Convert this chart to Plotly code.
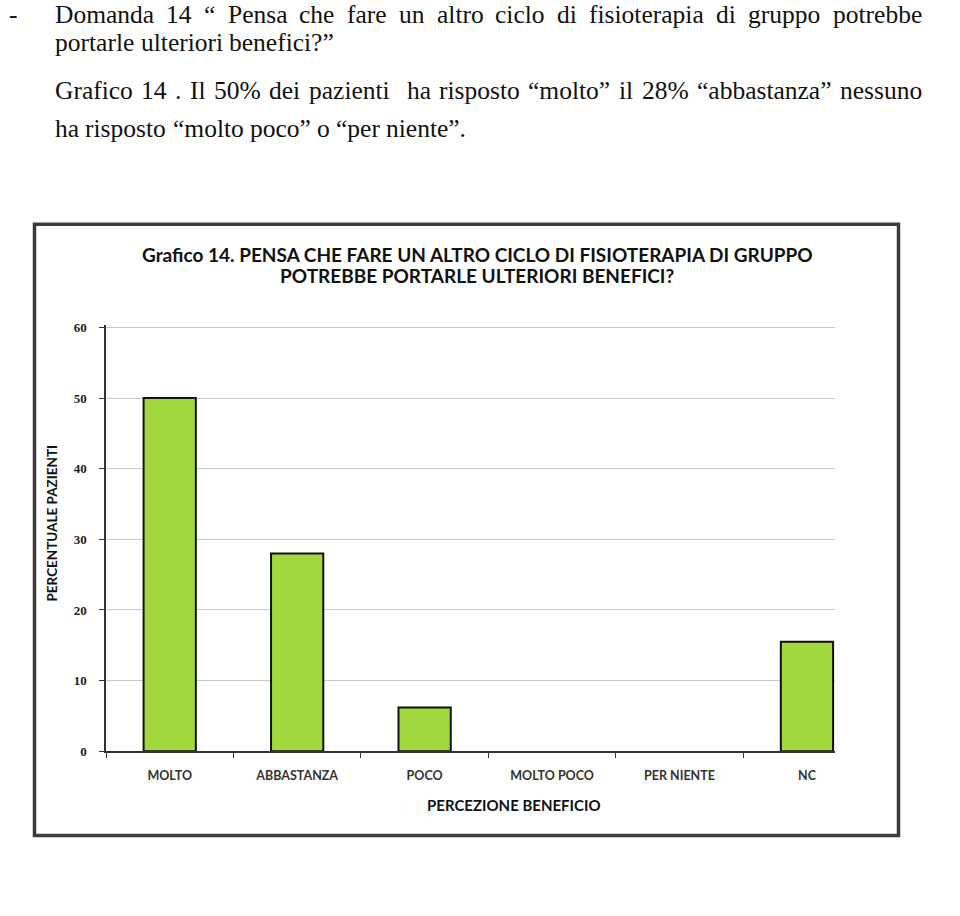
import plotly.graph_objects as go

categories = ["MOLTO", "ABBASTANZA", "POCO", "MOLTO POCO", "PER NIENTE", "NC"]
values = [50, 28, 6.2, 0, 0, 15.5]
y_ticks = [0, 10, 20, 30, 40, 50, 60]

W, H = 960, 916
def px(x):
    return x / W
def py(y):
    return 1 - y / H

fig = go.Figure()
fig.add_trace(go.Bar(
    x=categories, y=values,
    marker=dict(color="#a2d83c",
                line=dict(color="#111111", width=[0 if v == 0 else 2 for v in values])),
    width=0.41,
))

serif = "Liberation Serif"
sans = "Lato"

y_top = 60.3
y0_px, y60_px = 757, 327
top_px = y0_px - (y0_px - y60_px) * y_top / 60

fig.update_layout(
    width=W, height=H,
    margin=dict(l=0, r=0, t=0, b=0),
    paper_bgcolor="white", plot_bgcolor="white",
    showlegend=False,
    xaxis=dict(
        domain=[px(106), px(835)],
        range=[-0.5, 5.22],
        showline=True, linecolor="#333333", linewidth=1.5,
        ticks="outside", tickson="boundaries", ticklen=5, tickcolor="#333333",
        tickfont=dict(family=sans, size=12.5, color="#333333", weight="bold"),
        ticklabelstandoff=12,
        showgrid=False,
    ),
    yaxis=dict(
        domain=[py(y0_px), py(top_px)],
        range=[0, y_top], tickvals=y_ticks,
        showline=True, linecolor="#333333", linewidth=1.5,
        ticks="outside", ticklen=5, tickcolor="#333333",
        tickfont=dict(family=serif, size=13, color="#222222", weight="bold"),
        showgrid=True, gridcolor="#c8c8c8", gridwidth=1,
        zeroline=False,
        ticklabelstandoff=10,
    ),
)

# Times / Liberation Serif advance widths (1/1000 em) for justified layout
TW = {" ": 250, "a": 444, "b": 500, "c": 444, "d": 500, "e": 444, "f": 333, "g": 500,
      "h": 500, "i": 278, "l": 278, "m": 778, "n": 500, "o": 500, "p": 500, "r": 333,
      "s": 389, "t": 278, "u": 500, "z": 444, "D": 722, "G": 722, "I": 333, "P": 556,
      "%": 833, ".": 250, "?": 444, "“": 444, "”": 444}
for d in "0123456789":
    TW[d] = 500

FS = 25.5
def wwidth(w):
    return sum(TW.get(ch, 500) for ch in w) / 1000 * FS

annotations = []
line_font = dict(family=serif, size=FS, color="#111111")
LEFT, RIGHT = 54, 921

def add_line(text, y_center, justify):
    words = text.split(" ")
    widths = [wwidth(w) for w in words]
    gaps = len(words) - 1
    if justify and gaps > 0:
        gap = (RIGHT - LEFT - sum(widths)) / gaps
    else:
        gap = wwidth(" ")
    x = LEFT
    for w, wd in zip(words, widths):
        if w:
            annotations.append(dict(text=w, x=px(x), y=py(y_center - 7), borderpad=0,
                                    xanchor="left", yanchor="middle", font=line_font))
        x += wd + gap

annotations.append(dict(text="-", x=px(8), y=py(16.5 - 7), borderpad=0,
                        xanchor="left", yanchor="middle", font=line_font))
add_line("Domanda 14 “ Pensa che fare un altro ciclo di fisioterapia di gruppo potrebbe", 16.5, True)
add_line("portarle ulteriori benefici?”", 45, False)
add_line("Grafico 14 . Il 50% dei pazienti  ha risposto “molto” il 28% “abbastanza” nessuno", 94, True)
add_line("ha risposto “molto poco” o “per niente”.", 132, False)

# chart title
title_font = dict(family=sans, size=19, color="#111111", weight="bold")
annotations.append(dict(text="Grafico 14. PENSA CHE FARE UN ALTRO CICLO DI FISIOTERAPIA DI GRUPPO",
                        x=px(477), y=py(253), xanchor="center", yanchor="middle", font=title_font))
annotations.append(dict(text="POTREBBE PORTARLE ULTERIORI BENEFICI?",
                        x=px(477), y=py(274), xanchor="center", yanchor="middle", font=title_font))
# axis titles
annotations.append(dict(text="PERCENTUALE PAZIENTI", textangle=-90,
                        x=px(52), y=py(526), xanchor="center", yanchor="middle",
                        font=dict(family=sans, size=13.5, color="#111111", weight="bold")))
annotations.append(dict(text="PERCEZIONE BENEFICIO",
                        x=px(514), y=py(812), xanchor="center", yanchor="middle",
                        font=dict(family=sans, size=15, color="#111111", weight="bold")))
for a in annotations:
    a.update(xref="paper", yref="paper", showarrow=False)
fig.update_layout(annotations=annotations)

fig.add_shape(type="rect", xref="paper", yref="paper",
              x0=px(34.5), x1=px(898.5), y0=py(842.5), y1=py(222.5),
              line=dict(color="#3c3c3c", width=3.5), fillcolor="rgba(0,0,0,0)", layer="below")

fig.write_html("out.html")
